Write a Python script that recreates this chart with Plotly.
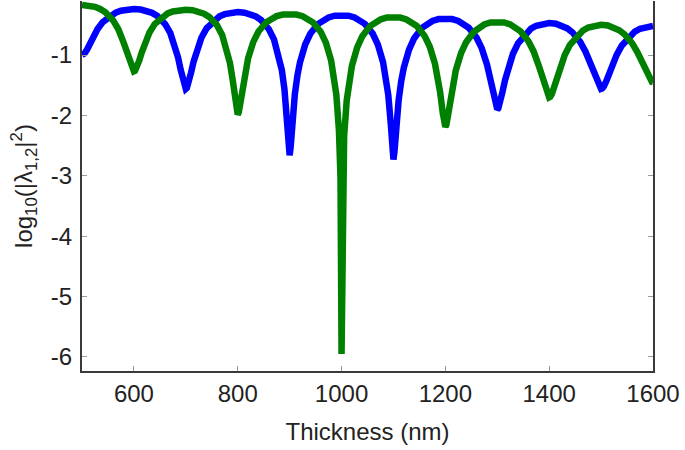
import plotly.graph_objects as go

# Thickness samples (nm) and log10(|lambda|^2) values
thickness_blue = [
    500, 502, 505, 510, 515, 520, 530, 540, 555, 565, 575, 587, 600,
    613, 625, 635, 645, 660, 670, 680, 685, 690, 695, 698, 700,
    702, 705, 710, 715, 720, 730, 740, 755, 765, 775, 787, 800,
    813, 825, 835, 845, 860, 870, 880, 885, 890, 895, 898, 900,
    902, 905, 910, 915, 920, 930, 940, 955, 965, 975, 987, 1000,
    1013, 1025, 1035, 1045, 1060, 1070, 1080, 1085, 1090, 1095, 1098, 1100,
    1102, 1105, 1110, 1115, 1120, 1130, 1140, 1155, 1165, 1175, 1187, 1200,
    1213, 1225, 1235, 1245, 1260, 1270, 1280, 1285, 1290, 1295, 1298, 1300,
    1302, 1305, 1310, 1315, 1320, 1330, 1340, 1355, 1365, 1375, 1387, 1400,
    1413, 1425, 1435, 1445, 1460, 1470, 1480, 1485, 1490, 1495, 1498, 1500,
    1502, 1505, 1510, 1515, 1520, 1530, 1540, 1555, 1565, 1575, 1587, 1600,
]
log_blue = [
    -1.000, -0.9957, -0.9740, -0.9066, -0.8188, -0.7283, -0.5706, -0.4546, -0.3432, -0.2977, -0.2677, -0.2472, -0.240,
    -0.2477, -0.2698, -0.3025, -0.3535, -0.4849, -0.6348, -0.8721, -1.0389, -1.2417, -1.4534, -1.5409, -1.560,
    -1.5452, -1.4753, -1.2951, -1.1100, -0.9507, -0.7140, -0.5582, -0.4168, -0.3605, -0.3238, -0.2987, -0.290,
    -0.2990, -0.3248, -0.3628, -0.4216, -0.5727, -0.7460, -1.0316, -1.2509, -1.5663, -2.0662, -2.4922, -2.660,
    -2.5211, -2.1362, -1.6529, -1.3395, -1.1186, -0.8264, -0.6455, -0.4843, -0.4203, -0.3786, -0.3500, -0.340,
    -0.3500, -0.3786, -0.4203, -0.4844, -0.6458, -0.8270, -1.1200, -1.3422, -1.6589, -2.1556, -2.5706, -2.730,
    -2.5982, -2.2241, -1.7450, -1.4309, -1.2078, -0.9096, -0.7218, -0.5514, -0.4826, -0.4372, -0.4060, -0.395,
    -0.4058, -0.4365, -0.4808, -0.5478, -0.7113, -0.8869, -1.1514, -1.3323, -1.5509, -1.7814, -1.8786, -1.900,
    -1.8837, -1.8074, -1.6131, -1.4151, -1.2439, -0.9840, -0.8057, -0.6349, -0.5634, -0.5154, -0.4818, -0.470,
    -0.4815, -0.5138, -0.5598, -0.6278, -0.7862, -0.9448, -1.1587, -1.2851, -1.4132, -1.5178, -1.5529, -1.560,
    -1.5541, -1.5245, -1.4340, -1.3193, -1.2025, -0.9981, -0.8421, -0.6826, -0.6131, -0.5656, -0.5320, -0.520,
]

thickness_green = [
    500,
    513, 525, 535, 545, 560, 570, 580, 585, 590, 595, 598, 600,
    602, 605, 610, 615, 620, 630, 640, 655, 665, 675, 687, 700,
    713, 725, 735, 745, 760, 770, 780, 785, 790, 795, 798, 800,
    802, 805, 810, 815, 820, 830, 840, 855, 865, 875, 887, 900,
    913, 925, 935, 945, 960, 970, 980, 985, 990, 995, 998, 1000,
    1002, 1005, 1010, 1015, 1020, 1030, 1040, 1055, 1065, 1075, 1087, 1100,
    1113, 1125, 1135, 1145, 1160, 1170, 1180, 1185, 1190, 1195, 1198, 1200,
    1202, 1205, 1210, 1215, 1220, 1230, 1240, 1255, 1265, 1275, 1287, 1300,
    1313, 1325, 1335, 1345, 1360, 1370, 1380, 1385, 1390, 1395, 1398, 1400,
    1402, 1405, 1410, 1415, 1420, 1430, 1440, 1455, 1465, 1475, 1487, 1500,
    1513, 1525, 1535, 1545, 1560, 1570, 1580, 1585, 1590, 1595, 1598, 1600,
]
log_green = [
    -0.170,
    -0.1785, -0.2024, -0.2383, -0.2926, -0.4279, -0.5745, -0.7899, -0.9280, -1.0786, -1.2124, -1.2602, -1.270,
    -1.2613, -1.2188, -1.0976, -0.9583, -0.8291, -0.6260, -0.4884, -0.3625, -0.3124, -0.2799, -0.2577, -0.250,
    -0.2580, -0.2812, -0.3154, -0.3689, -0.5077, -0.6685, -0.9328, -1.1308, -1.3981, -1.7453, -1.9362, -1.985,
    -1.9497, -1.8015, -1.4998, -1.2477, -1.0529, -0.7827, -0.6113, -0.4576, -0.3966, -0.3567, -0.3295, -0.320,
    -0.3296, -0.3572, -0.3977, -0.4600, -0.6184, -0.7983, -1.0937, -1.3220, -1.6581, -2.2503, -3.0429, -5.950,
    -3.1343, -2.3410, -1.7476, -1.4094, -1.1783, -0.8763, -0.6894, -0.5218, -0.4547, -0.4108, -0.3806, -0.370,
    -0.3805, -0.4104, -0.4538, -0.5198, -0.6837, -0.8639, -1.1462, -1.3506, -1.6206, -1.9619, -2.1442, -2.190,
    -2.1558, -2.0111, -1.7119, -1.4577, -1.2583, -0.9749, -0.7887, -0.6147, -0.5428, -0.4950, -0.4617, -0.450,
    -0.4614, -0.4937, -0.5400, -0.6088, -0.7722, -0.9406, -1.1789, -1.3287, -1.4916, -1.6369, -1.6892, -1.700,
    -1.6910, -1.6467, -1.5195, -1.3710, -1.2299, -0.9987, -0.8310, -0.6649, -0.5939, -0.5458, -0.5120, -0.500,
    -0.5115, -0.5438, -0.5900, -0.6565, -0.8088, -0.9557, -1.1433, -1.2473, -1.3461, -1.4212, -1.4453, -1.450,
]

x_ticks = [600, 800, 1000, 1200, 1400, 1600]
y_ticks = [-6, -5, -4, -3, -2, -1]
y_tick_text = ["-6", "-5", "-4", "-3", "-2", "-1"]

FONT = "Liberation Sans, Arial, Helvetica, sans-serif"
TXT = "#222222"

fig = go.Figure()
fig.add_trace(go.Scatter(x=thickness_blue, y=log_blue, mode="lines",
                         line=dict(color="#0000ff", width=6.5), showlegend=False))
fig.add_trace(go.Scatter(x=thickness_green, y=log_green, mode="lines",
                         line=dict(color="#008000", width=6.5), showlegend=False))

fig.update_layout(
    width=685, height=450,
    margin=dict(l=82, r=32, t=1, b=79),
    paper_bgcolor="white", plot_bgcolor="white",
    font=dict(family=FONT, size=24, color=TXT),
    xaxis=dict(
        range=[500, 1600], tickvals=x_ticks, ticks="inside", ticklen=5,
        tickcolor="#999999", tickwidth=1, showline=True, linecolor="#3a3a3a",
        linewidth=2, showgrid=False, zeroline=False, automargin=False,
        ticklabelstandoff=0,
        tickfont=dict(family=FONT, size=24, color=TXT),
        title=dict(text="Thickness (nm)", font=dict(family=FONT, size=24, color=TXT), standoff=17),
    ),
    xaxis2=dict(
        range=[500, 1600], overlaying="x", side="top", anchor="y",
        tickvals=x_ticks, ticks="inside", ticklen=5, tickcolor="#999999",
        showticklabels=False, showline=True, linecolor="#aaaaaa", linewidth=1,
        showgrid=False, zeroline=False, automargin=False,
    ),
    yaxis=dict(
        range=[-6.232, -0.106], tickvals=y_ticks, ticktext=y_tick_text,
        ticks="inside", ticklen=5, tickcolor="#999999", tickwidth=1,
        showline=True, linecolor="#3a3a3a", linewidth=2, mirror="ticks",
        showgrid=False, zeroline=False, ticklabelstandoff=3, automargin=False,
        tickfont=dict(family=FONT, size=24, color=TXT),
        title=dict(text="log<sub>10</sub>(|λ<sub>1,2</sub>|<sup>2</sup>)",
                   font=dict(family=FONT, size=24, color=TXT), standoff=11),
    ),
)

fig.write_html("out.html", config={"displayModeBar": False},
               post_script="document.body.style.margin='0px';")
